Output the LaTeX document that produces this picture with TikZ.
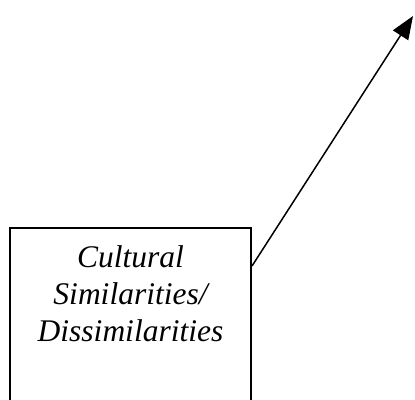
\documentclass[tikz,border=0pt]{standalone}
\usepackage{fontspec}
\setmainfont{Liberation Serif}
\usetikzlibrary{positioning,arrows.meta}

\begin{document}
\begin{tikzpicture}[x=1pt,y=-1pt,
    catbox/.style={draw, line width=2pt, minimum width=241pt, minimum height=220pt, inner sep=0pt},
    cattext/.style={inner sep=0pt, align=center, font=\fontsize{31.5}{37}\selectfont\itshape}]
    \useasboundingbox (0,0) rectangle (415,399);
    % Define nodes
    \node[catbox, anchor=north west] (S) at (9,227) {};
    \node[cattext, below=18pt of S.north] (T) {Cultural\\Similarities/\\Dissimilarities};
    \coordinate (E) at (413,16);
    
    % Draw arrows
    \draw[line width=1.5pt, -{Triangle[length=23pt,width=18pt]}] ([yshift=-39pt]S.north east) -- (E);
\end{tikzpicture}
\end{document}
